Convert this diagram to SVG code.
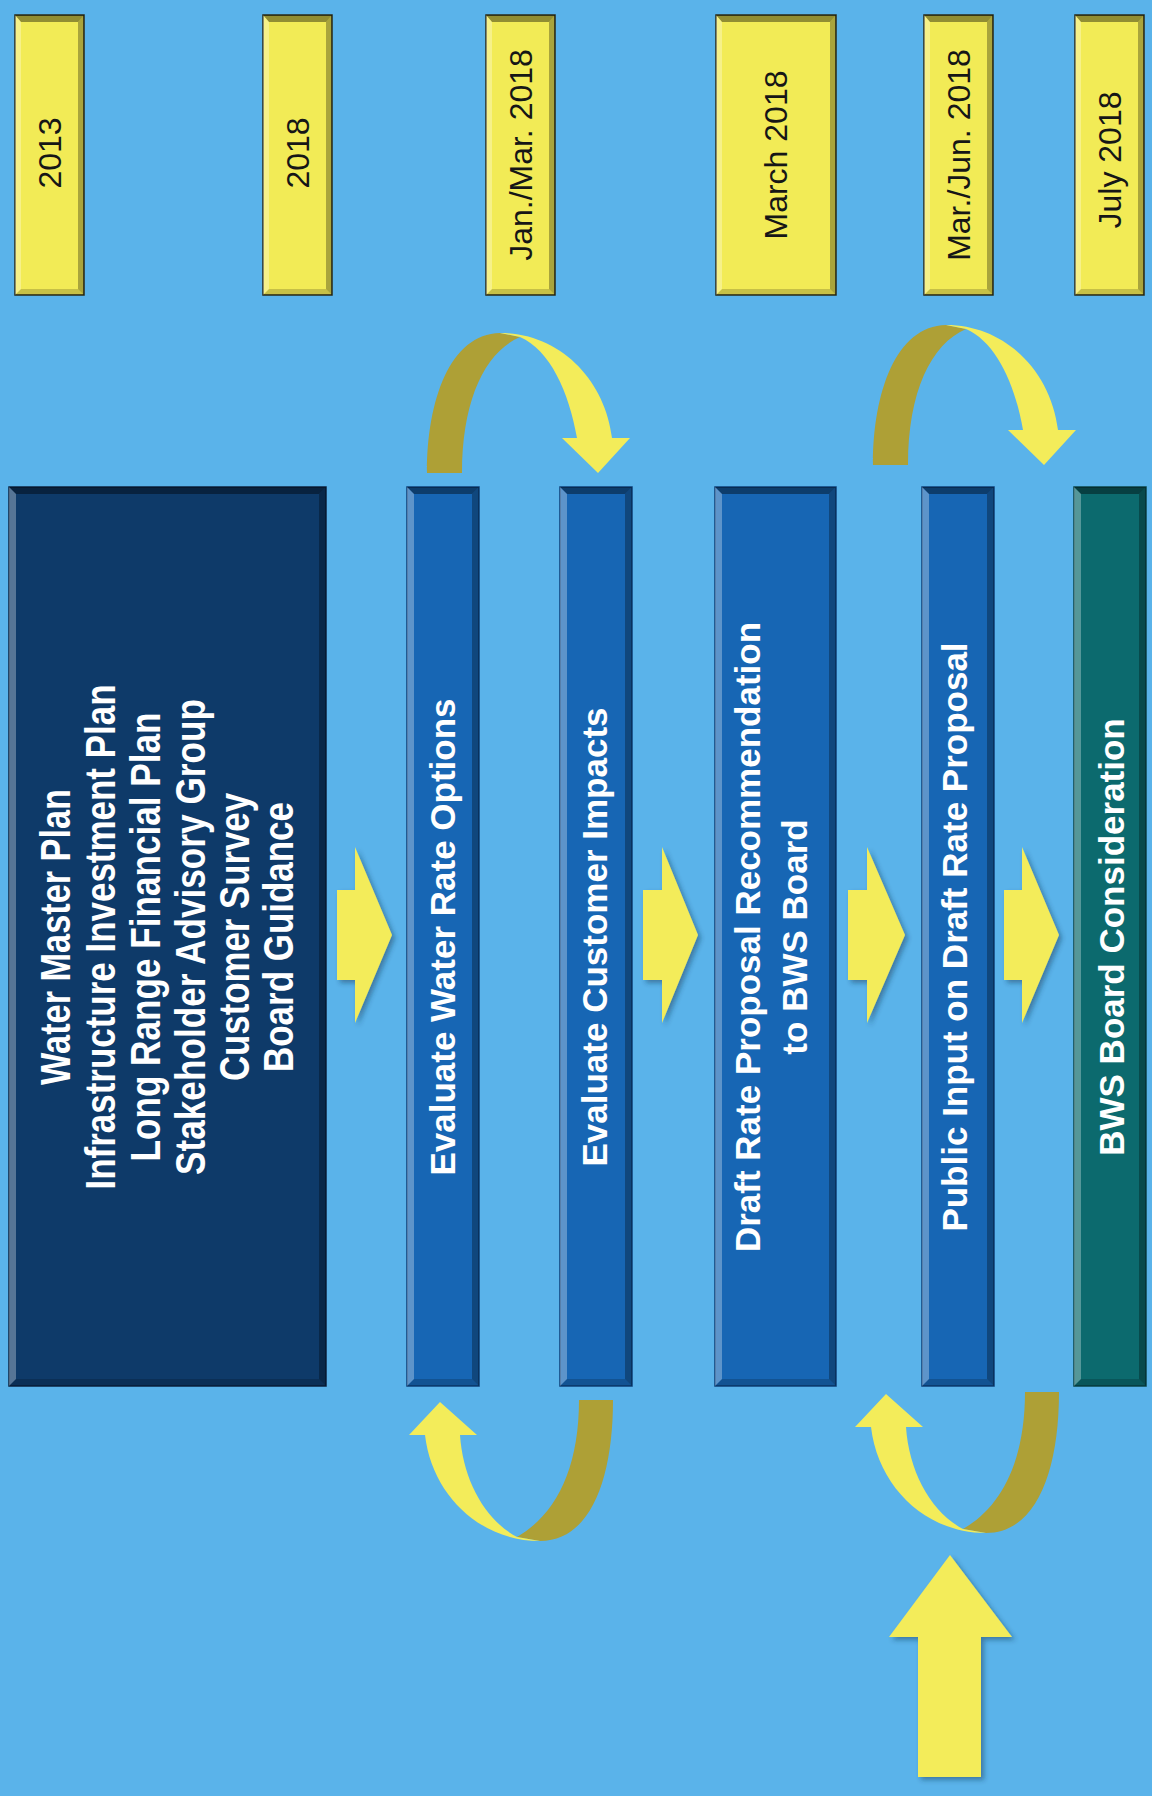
<svg xmlns="http://www.w3.org/2000/svg" xmlns:xlink="http://www.w3.org/1999/xlink" width="1152" height="1796" viewBox="0 0 1152 1796">
<style>
.bg{fill:#5ab3ea}
.date{fill:#f2eb56;stroke:#2a2a14;stroke-width:1.5}
.navy{fill:#0e3a69;stroke:#0a2240;stroke-width:1.5}
.blue{fill:#1766b4;stroke:#0d3f78;stroke-width:1.5}
.teal{fill:#0c6a6e;stroke:#084548;stroke-width:1.5}
.bt{fill:rgba(0,0,0,0.4)}
.bb{fill:rgba(0,0,0,0.18)}
.bl{fill:rgba(255,255,255,0.3)}
.br{fill:rgba(0,0,0,0.3)}
.dt{font-family:"Liberation Sans",Arial,sans-serif;font-size:32px;fill:#161616;text-anchor:middle}
.wt{font-family:"Liberation Sans",Arial,sans-serif;font-size:35px;font-weight:bold;fill:#ffffff;text-anchor:middle}
.nt{font-family:"Liberation Sans",Arial,sans-serif;font-size:42px;font-weight:bold;fill:#ffffff;text-anchor:middle}
.ya{fill:#f3ec5a}
.yd{fill:#aea036}
</style>
<defs>
<filter id="sh" x="-20%" y="-20%" width="150%" height="150%">
<feDropShadow dx="3" dy="3" stdDeviation="2.5" flood-color="#1a3050" flood-opacity="0.45"/>
</filter>
<g id="bevD69">
<polygon class="bt" points="0,0 69,0 63,7 6,7"/>
<polygon class="bb" points="0,280 69,280 63,274 6,274"/>
<polygon class="bl" points="0,0 6,7 6,274 0,280"/>
<polygon class="br" points="69,0 63,7 63,274 69,280"/>
</g>
<g id="bevD120">
<polygon class="bt" points="0,0 120,0 114,7 6,7"/>
<polygon class="bb" points="0,280 120,280 114,274 6,274"/>
<polygon class="bl" points="0,0 6,7 6,274 0,280"/>
<polygon class="br" points="120,0 114,7 114,274 120,280"/>
</g>
<g id="bev72">
<polygon class="bt" points="0,0 72,0 65,7 7,7"/>
<polygon class="bb" points="0,899 72,899 65,892 7,892"/>
<polygon class="bl" points="0,0 7,7 7,892 0,899"/>
<polygon class="br" points="72,0 65,7 65,892 72,899"/>
</g>
<g id="bev121">
<polygon class="bt" points="0,0 121,0 114,7 7,7"/>
<polygon class="bb" points="0,899 121,899 114,892 7,892"/>
<polygon class="bl" points="0,0 7,7 7,892 0,899"/>
<polygon class="br" points="121,0 114,7 114,892 121,899"/>
</g>
<g id="bev317">
<polygon class="bt" points="0,0 317,0 310,7 7,7"/>
<polygon class="bb" points="0,899 317,899 310,892 7,892"/>
<polygon class="bl" points="0,0 7,7 7,892 0,899"/>
<polygon class="br" points="317,0 310,7 310,892 317,899"/>
</g>
<g id="arcTop">
<path class="yd" d="M427,473 C427,400 450,334 500,333 L520,337 C485,352 462,400 462,473 Z"/>
<path class="ya" d="M500,333 C560,333 605,380 612,438 L630,438 L598,473 L562,438 L577,438 C569,392 550,350 520,337 Z"/>
</g>
<g id="arcBot">
<path class="yd" d="M579,1400 L613,1400 C613,1480 590,1541 540,1541 L517,1537 C555,1515 579,1470 579,1400 Z"/>
<path class="ya" d="M540,1541 C480,1541 432,1495 425,1435 L409,1435 L440,1402 L477,1435 L460,1435 C463,1480 485,1520 517,1537 Z"/>
</g>
</defs>
<rect class="bg" x="0" y="0" width="1152" height="1796"/>

<g id="date-2013">
<rect class="date" x="15" y="15" width="69" height="280"/>
<use xlink:href="#bevD69" x="15" y="15"/>
<text class="dt" transform="translate(61,153) rotate(-90)">2013</text>
</g>
<g id="date-2018">
<rect class="date" x="263" y="15" width="69" height="280"/>
<use xlink:href="#bevD69" x="263" y="15"/>
<text class="dt" transform="translate(309,153) rotate(-90)">2018</text>
</g>
<g id="date-janmar">
<rect class="date" x="486" y="15" width="69" height="280"/>
<use xlink:href="#bevD69" x="486" y="15"/>
<text class="dt" transform="translate(532,155) rotate(-90)">Jan./Mar. 2018</text>
</g>
<g id="date-march">
<rect class="date" x="716" y="15" width="120" height="280"/>
<use xlink:href="#bevD120" x="716" y="15"/>
<text class="dt" transform="translate(787,155) rotate(-90)">March 2018</text>
</g>
<g id="date-marjun">
<rect class="date" x="924" y="15" width="69" height="280"/>
<use xlink:href="#bevD69" x="924" y="15"/>
<text class="dt" transform="translate(970,155) rotate(-90)">Mar./Jun. 2018</text>
</g>
<g id="date-july">
<rect class="date" x="1075" y="15" width="69" height="280"/>
<use xlink:href="#bevD69" x="1075" y="15"/>
<text class="dt" transform="translate(1121,160) rotate(-90)">July 2018</text>
</g>

<g id="inputs">
<rect class="navy" x="9" y="487" width="317" height="899"/>
<use xlink:href="#bev317" x="9" y="487"/>
<text class="nt" transform="translate(70,937) rotate(-90)" textLength="296" lengthAdjust="spacingAndGlyphs">Water Master Plan</text>
<text class="nt" transform="translate(115,937) rotate(-90)" textLength="505" lengthAdjust="spacingAndGlyphs">Infrastructure Investment Plan</text>
<text class="nt" transform="translate(160,937) rotate(-90)" textLength="449" lengthAdjust="spacingAndGlyphs">Long Range Financial Plan</text>
<text class="nt" transform="translate(205,937) rotate(-90)" textLength="476" lengthAdjust="spacingAndGlyphs">Stakeholder Advisory Group</text>
<text class="nt" transform="translate(249,937) rotate(-90)" textLength="288" lengthAdjust="spacingAndGlyphs">Customer Survey</text>
<text class="nt" transform="translate(293,937) rotate(-90)" textLength="270" lengthAdjust="spacingAndGlyphs">Board Guidance</text>
</g>
<g id="evaluate-options">
<rect class="blue" x="407" y="487" width="72" height="899"/>
<use xlink:href="#bev72" x="407" y="487"/>
<text class="wt" transform="translate(455,937) rotate(-90)">Evaluate Water Rate Options</text>
</g>
<g id="evaluate-impacts">
<rect class="blue" x="560" y="487" width="72" height="899"/>
<use xlink:href="#bev72" x="560" y="487"/>
<text class="wt" transform="translate(607,937) rotate(-90)">Evaluate Customer Impacts</text>
</g>
<g id="draft-proposal">
<rect class="blue" x="715" y="487" width="121" height="899"/>
<use xlink:href="#bev121" x="715" y="487"/>
<text class="wt" transform="translate(760,937) rotate(-90)">Draft Rate Proposal Recommendation</text>
<text class="wt" transform="translate(807,937) rotate(-90)">to BWS Board</text>
</g>
<g id="public-input">
<rect class="blue" x="922" y="487" width="72" height="899"/>
<use xlink:href="#bev72" x="922" y="487"/>
<text class="wt" transform="translate(967,937) rotate(-90)">Public Input on Draft Rate Proposal</text>
</g>
<g id="board-consideration">
<rect class="teal" x="1074" y="487" width="72" height="899"/>
<use xlink:href="#bev72" x="1074" y="487"/>
<text class="wt" transform="translate(1124,937) rotate(-90)">BWS Board Consideration</text>
</g>

<g id="connectors">
<g filter="url(#sh)">
<polygon class="ya" points="337,890 355,890 355,847 392,935 355,1023 355,980 337,980"/>
<polygon class="ya" points="643,890 662,890 662,847 698,935 662,1023 662,980 643,980"/>
<polygon class="ya" points="848,890 867,890 867,847 905,935 867,1023 867,980 848,980"/>
<polygon class="ya" points="1004,890 1022,890 1022,847 1059,935 1022,1023 1022,980 1004,980"/>
<polygon class="ya" points="950,1555 1012,1637 981,1637 981,1777 918,1777 918,1637 889,1637"/>
</g>
<use xlink:href="#arcTop"/>
<use xlink:href="#arcTop" transform="translate(446,-8)"/>
<use xlink:href="#arcBot"/>
<use xlink:href="#arcBot" transform="translate(446,-8)"/>
</g>
</svg>
